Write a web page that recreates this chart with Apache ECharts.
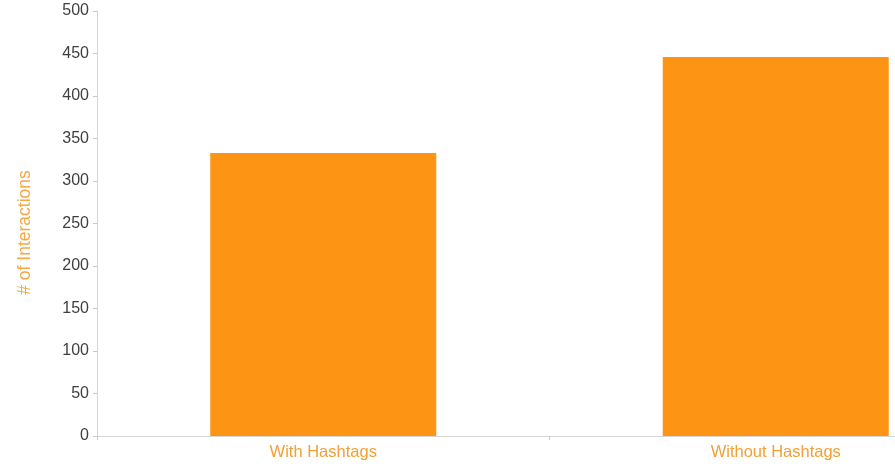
<!DOCTYPE html>
<html>
<head>
<meta charset="utf-8">
<script src="https://cdn.jsdelivr.net/npm/echarts@6/dist/echarts.min.js"></script>
<style>
  html, body { margin: 0; padding: 0; background: #fff; overflow: hidden; }
  #frame { width: 895px; height: 466px; overflow: hidden; position: relative; }
  /* the plot runs past the right edge of the frame */
  #chart { width: 1002px; height: 466px; position: absolute; left: 0; top: 0; }
</style>
</head>
<body>
<div id="frame"><div id="chart"></div></div>
<script>
// Interactions per post group
const categories = ['With Hashtags', 'Without Hashtags'];
const interactions = [333, 446];
const yTicks = [0, 50, 100, 150, 200, 250, 300, 350, 400, 450, 500];

const font = 'Liberation Sans, Arial, sans-serif';
const chart = echarts.init(document.getElementById('chart'));
chart.setOption({
  animation: false,
  grid: { left: 97, top: 11, bottom: 30, right: 0, containLabel: false },
  xAxis: {
    type: 'category',
    data: categories,
    axisLine: { lineStyle: { color: '#d6d6d6', width: 1 } },
    axisTick: { show: true, length: 4, lineStyle: { color: '#c8c8c8' } },
    axisLabel: { color: '#f2a035', fontFamily: font, fontSize: 16.5, margin: 8 }
  },
  yAxis: {
    type: 'value',
    min: yTicks[0],
    max: yTicks[yTicks.length - 1],
    interval: 50,
    name: '# of Interactions',
    nameLocation: 'middle',
    nameGap: 63,
    nameTextStyle: { color: '#f5a843', fontFamily: font, fontSize: 17.5, padding: [0, 18, 0, 0] },
    axisLine: { show: true, lineStyle: { color: '#d6d6d6', width: 1 } },
    axisTick: { show: true, length: 4, lineStyle: { color: '#c8c8c8' } },
    splitLine: { show: false },
    axisLabel: { color: '#404040', fontFamily: font, fontSize: 16, margin: 8 }
  },
  series: [{
    type: 'bar',
    data: interactions,
    barWidth: 226,
    itemStyle: { color: '#fe9414' }
  }]
});
</script>
</body>
</html>
